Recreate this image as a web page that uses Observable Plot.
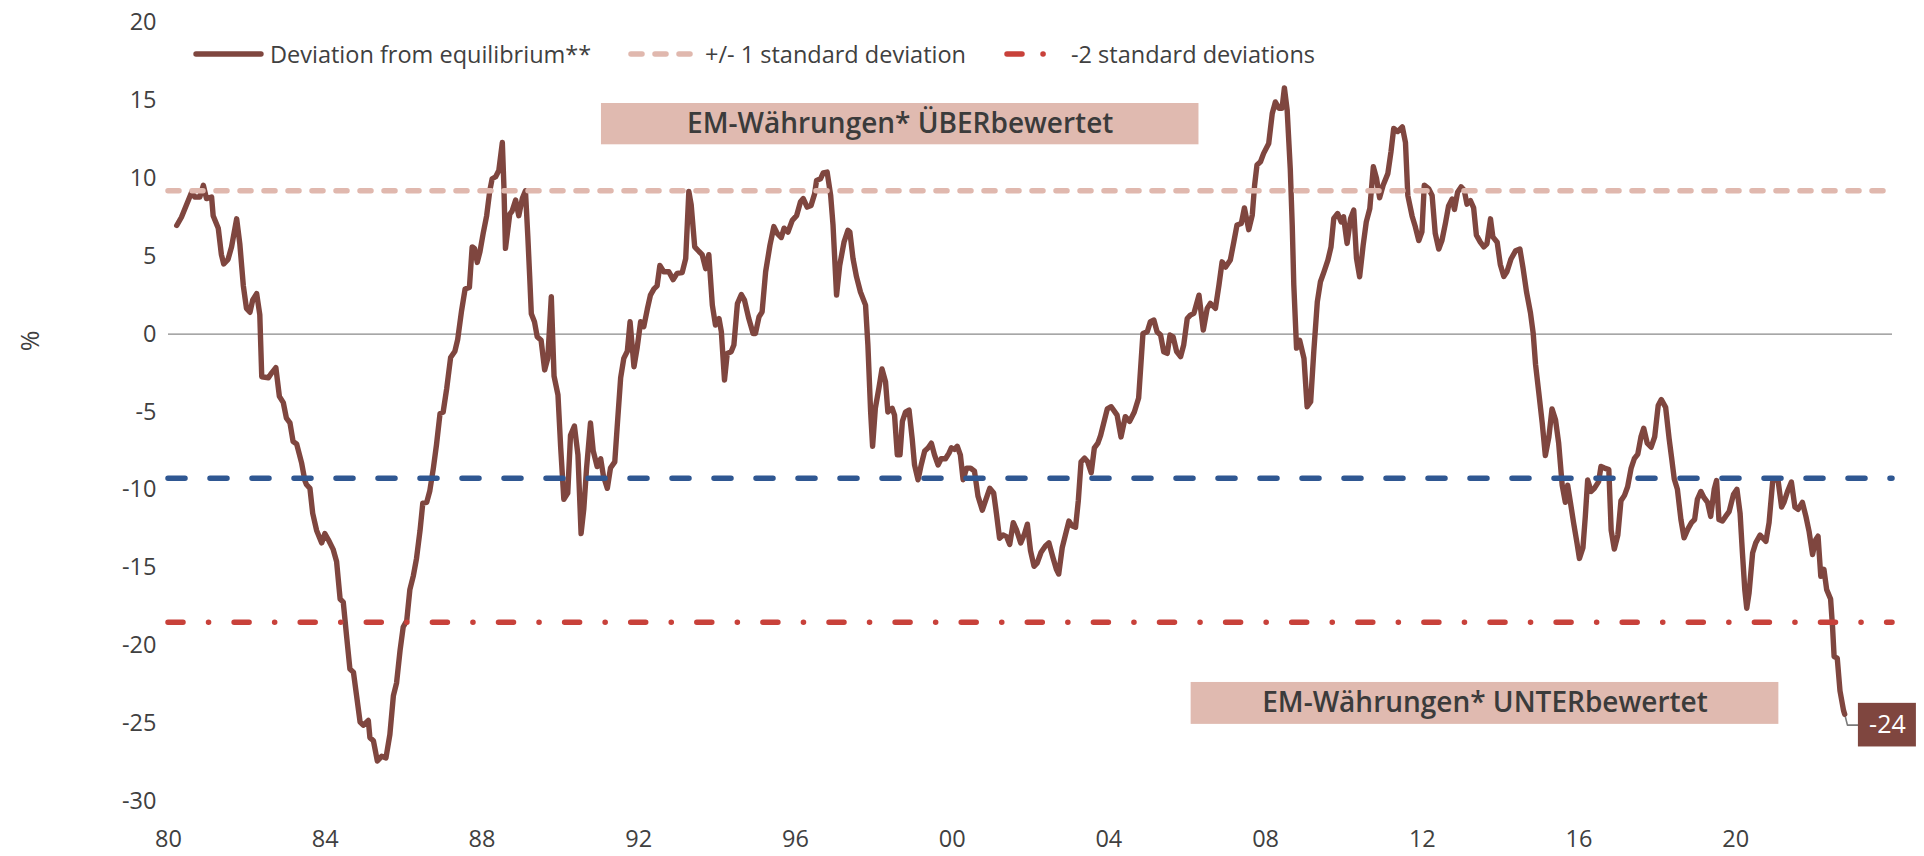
<!DOCTYPE html>
<html>
<head>
<meta charset="utf-8">
<script src="https://cdn.jsdelivr.net/npm/d3@7"></script>
<script src="https://cdn.jsdelivr.net/npm/@observablehq/plot@0.6"></script>
<style>
  html, body { margin: 0; padding: 0; background: #fff; }
  #wrap { position: relative; width: 1924px; height: 856px; overflow: hidden; font-family: 'Open Sans', sans-serif; color: #404040; }
  #chart { position: absolute; left: 0; top: 0; }
  .leg { position: absolute; top: 37px; height: 34px; display: flex; align-items: center; font-size: 23.5px; color: #404040; white-space: nowrap; }
  .leg svg { display: block; }
  #ylab { position: absolute; left: 19px; top: 324px; font-size: 25px; transform: rotate(-90deg); transform-origin: center; color: #404040; }
</style>
</head>
<body>
<div id="wrap">
  <div id="chart"></div>
  <div id="ylab">%</div>
</div>
<script>
// ---- data ----
const dates = [
1980.21,1980.33,1980.59,1980.67,1980.8,1980.89,1980.97,1981.1,1981.14,1981.27,1981.35,1981.41,1981.52,1981.61,1981.74,1981.82,1981.91,1981.99,
1982.08,1982.15,1982.25,1982.33,1982.38,1982.55,1982.63,1982.74,1982.83,1982.93,1983.01,1983.1,1983.18,1983.27,1983.4,1983.48,1983.52,1983.61,
1983.68,1983.78,1983.91,1983.99,1984.08,1984.2,1984.29,1984.38,1984.46,1984.55,1984.63,1984.72,1984.8,1984.89,1984.97,1985.1,1985.14,1985.23,
1985.33,1985.44,1985.55,1985.65,1985.74,1985.82,1985.91,1985.99,1986.08,1986.16,1986.25,1986.33,1986.42,1986.49,1986.59,1986.67,1986.76,1986.84,
1986.93,1987.01,1987.1,1987.2,1987.31,1987.38,1987.48,1987.57,1987.68,
1987.75,1987.81,1987.88,1987.95,1988.03,1988.12,1988.2,1988.26,1988.35,1988.43,1988.52,1988.56,1988.6,1988.71,1988.77,1988.86,1988.94,1989.03,
1989.11,1989.17,1989.22,1989.26,1989.34,1989.41,1989.51,1989.6,1989.68,1989.77,1989.84,1989.94,1990.01,1990.09,1990.19,1990.26,1990.36,1990.45,
1990.53,1990.6,1990.67,1990.77,1990.84,1990.94,1991.03,1991.1,1991.2,1991.28,1991.39,1991.45,1991.54,1991.62,1991.71,1991.78,1991.88,1991.96,
1992.05,1992.13,1992.22,1992.3,1992.39,1992.47,1992.54,1992.64,1992.77,1992.88,1992.98,1993.11,1993.2,1993.28,1993.34,1993.43,1993.54,1993.62,
1993.71,1993.79,1993.88,1993.96,1994.05,1994.11,1994.19,1994.26,1994.36,1994.43,1994.52,1994.62,1994.7,1994.81,1994.92,1994.98,1995.07,1995.15,
1995.24,1995.35,1995.45,1995.54,1995.64,
1995.71,1995.81,1995.92,1996.03,1996.13,1996.2,1996.3,1996.4,1996.49,1996.54,1996.64,1996.71,1996.81,1996.9,1996.96,1997.05,1997.13,1997.24,
1997.34,1997.39,1997.47,1997.56,1997.66,1997.79,1997.85,1997.92,1997.97,1998.04,1998.13,1998.21,1998.3,1998.36,1998.47,1998.53,1998.6,1998.67,
1998.73,1998.81,1998.9,1998.98,1999.04,1999.13,1999.21,1999.3,1999.39,1999.47,1999.55,1999.64,1999.72,1999.83,1999.92,1999.98,2000.06,2000.13,
2000.21,2000.28,2000.37,2000.47,2000.57,2000.66,2000.77,2000.85,2000.96,2001.06,2001.13,2001.21,2001.3,2001.39,2001.47,2001.56,2001.64,2001.75,
2001.85,2001.92,2002.0,2002.09,2002.17,2002.27,2002.38,2002.47,2002.58,2002.66,2002.72,2002.81,2002.89,2002.98,2003.06,2003.15,2003.22,2003.29,
2003.38,2003.46,2003.55,2003.63,2003.72,2003.79,
2003.96,2004.06,2004.21,2004.31,2004.42,2004.53,2004.65,2004.76,2004.87,2004.98,2005.06,2005.15,2005.23,2005.32,2005.4,2005.49,2005.56,2005.64,
2005.73,2005.83,2005.91,2006.0,2006.08,2006.17,2006.3,2006.41,2006.51,2006.59,2006.72,2006.81,2006.89,2006.98,2007.1,2007.19,2007.27,2007.38,
2007.46,2007.57,2007.66,2007.72,2007.78,2007.87,2007.95,2008.08,2008.17,2008.25,2008.34,2008.42,2008.48,2008.55,2008.63,2008.68,2008.72,2008.79,
2008.87,2008.98,2009.06,2009.15,2009.23,2009.32,2009.4,2009.49,2009.59,2009.67,2009.74,2009.84,2009.93,2009.99,2010.08,2010.17,2010.25,2010.32,
2010.4,2010.49,2010.57,2010.66,2010.75,2010.83,2010.91,2011.0,2011.12,2011.2,2011.27,2011.37,2011.49,
2011.57,2011.63,2011.74,2011.82,2011.91,2011.99,2012.05,2012.16,2012.25,2012.33,2012.42,2012.5,2012.59,2012.67,2012.76,2012.82,2012.9,2012.99,
2013.07,2013.14,2013.23,2013.31,2013.38,2013.48,2013.57,2013.65,2013.74,2013.8,2013.91,2013.99,2014.08,2014.16,2014.26,2014.38,2014.49,2014.57,
2014.66,2014.76,2014.83,2014.89,2014.97,2015.06,2015.14,2015.23,2015.31,2015.4,2015.48,2015.57,2015.65,2015.71,2015.78,2015.86,2015.95,2016.01,
2016.1,2016.16,2016.22,2016.31,2016.39,2016.5,2016.56,2016.65,2016.76,2016.82,2016.9,2016.99,2017.07,2017.16,2017.24,2017.33,2017.41,2017.5,
2017.58,2017.65,2017.74,2017.84,
2017.93,2018.02,2018.1,2018.21,2018.3,2018.36,2018.43,2018.51,2018.6,2018.68,2018.78,2018.87,2018.95,2019.02,2019.11,2019.19,2019.28,2019.36,
2019.45,2019.51,2019.57,2019.66,2019.74,2019.83,2019.94,2020.03,2020.11,2020.17,2020.23,2020.28,2020.34,2020.43,2020.51,2020.62,2020.77,2020.85,
2020.94,2021.0,2021.08,2021.17,2021.23,2021.32,2021.42,2021.51,2021.59,2021.7,2021.79,2021.87,2021.96,2022.04,2022.1,2022.17,2022.25,2022.32,
2022.42,2022.47,2022.51,2022.59,2022.66,2022.75,2022.78
];
const deviation = [
6.97,7.5,9.1,8.8,8.8,9.55,8.7,8.8,7.6,6.8,5.1,4.5,4.8,5.6,7.4,5.8,3.1,1.65,
1.4,2.2,2.6,1.25,-2.74,-2.8,-2.5,-2.15,-4.0,-4.4,-5.4,-5.7,-6.9,-7.05,-8.3,-9.4,-9.65,-9.9,
-11.5,-12.6,-13.4,-12.8,-13.2,-13.8,-14.6,-17.0,-17.2,-19.5,-21.5,-21.7,-23.2,-24.9,-25.1,-24.8,-25.9,-26.1,
-27.4,-27.1,-27.2,-25.7,-23.2,-22.4,-20.3,-18.8,-18.4,-16.4,-15.5,-14.4,-12.6,-10.85,-10.8,-10.05,-8.6,-7.1,
-5.1,-5.0,-3.5,-1.5,-1.1,-0.35,1.5,2.9,3.0,
5.6,5.5,4.6,5.3,6.45,7.6,9.2,9.97,10.1,10.5,12.3,9.5,5.5,7.7,7.9,8.6,7.6,8.7,
9.2,6.3,3.6,1.3,0.8,-0.17,-0.4,-2.3,-1.56,2.4,-2.7,-3.9,-7.3,-10.6,-10.2,-6.5,-5.9,-7.75,
-12.8,-11.2,-8.6,-5.7,-7.5,-8.5,-8.0,-9.1,-9.9,-8.6,-8.2,-6.0,-2.8,-1.56,-1.1,0.8,-2.1,-0.9,
0.8,0.47,1.6,2.5,2.9,3.1,4.4,4.0,4.0,3.5,3.9,3.95,4.85,9.15,8.3,5.6,5.3,5.1,
4.2,5.1,1.86,0.58,1.0,0.15,-2.95,-1.24,-1.13,-0.7,1.96,2.54,2.18,1.0,0.04,0.04,1.1,1.43,
4.0,5.7,6.9,6.45,6.2,
6.8,6.55,7.3,7.6,8.5,8.7,8.15,8.26,9.0,9.86,9.97,10.35,10.4,8.9,7.0,2.5,4.4,5.9,
6.66,6.55,4.85,3.67,2.7,1.86,-0.7,-5.0,-7.2,-4.76,-3.48,-2.24,-3.05,-5.0,-4.76,-5.2,-7.75,-7.75,
-5.6,-5.0,-4.87,-6.7,-8.4,-9.35,-8.4,-7.5,-7.3,-7.0,-7.75,-8.4,-8.0,-8.0,-7.64,-7.3,-7.4,-7.2,
-7.75,-9.35,-8.6,-8.6,-8.8,-10.4,-11.3,-10.7,-9.9,-10.2,-11.5,-13.1,-12.9,-13.0,-13.5,-12.1,-12.55,-13.4,
-12.8,-12.2,-13.9,-14.9,-14.7,-14.0,-13.6,-13.4,-14.4,-15.1,-15.4,-13.7,-12.9,-12.0,-12.3,-12.4,-10.7,-8.2,
-7.96,-8.2,-8.9,-7.3,-7.0,-6.5,
-4.8,-4.66,-5.2,-6.6,-5.3,-5.6,-5.0,-4.1,0.04,0.15,0.8,0.9,0.15,-0.06,-1.13,-1.24,-0.06,-0.17,
-1.13,-1.45,-0.7,1.0,1.22,1.33,2.5,0.26,1.65,1.97,1.65,3.15,4.64,4.3,4.75,5.93,7.0,7.1,
8.1,6.7,7.64,9.56,10.85,11.06,11.6,12.24,14.16,14.9,14.5,14.5,15.8,14.4,10.6,7.0,3.15,-0.9,
-0.4,-1.56,-4.66,-4.34,-1.13,2.07,3.36,4.0,4.75,5.6,7.42,7.74,7.2,7.53,5.82,7.42,7.96,4.86,
3.68,5.7,7.2,8.06,10.74,10.0,8.75,9.56,10.3,11.7,13.2,13.0,13.3,
12.3,8.9,7.57,6.9,6.0,6.57,9.56,9.34,8.9,6.46,5.46,6.0,7.12,8.23,8.67,8.0,9.1,9.45,
9.23,8.34,8.56,8.1,6.35,5.9,5.6,5.8,7.4,6.24,5.9,4.47,3.7,4.0,4.8,5.35,5.46,4.25,
2.7,1.37,0.04,-1.95,-3.7,-5.7,-7.8,-6.6,-4.8,-5.5,-7.0,-9.7,-10.8,-9.7,-10.8,-12.1,-13.45,-14.4,
-13.7,-11.7,-9.36,-10.1,-9.9,-9.47,-8.5,-8.6,-8.7,-12.6,-13.8,-12.9,-10.7,-10.35,-9.8,-8.6,-8.0,-7.7,
-6.6,-6.04,-7.0,-7.26,
-6.6,-4.58,-4.2,-4.7,-6.73,-7.9,-9.3,-9.96,-11.9,-13.08,-12.5,-12.1,-11.9,-10.6,-10.1,-10.5,-10.8,-11.7,
-9.96,-9.4,-11.9,-12.0,-11.7,-11.4,-10.3,-9.96,-11.5,-14.05,-16.4,-17.6,-16.6,-14.05,-13.4,-12.9,-13.3,-12.1,
-9.5,-9.3,-9.4,-11.1,-10.8,-10.1,-9.5,-11.1,-11.25,-10.8,-11.7,-12.65,-14.15,-13.2,-12.97,-15.55,-15.1,-16.4,
-17.0,-18.8,-20.7,-20.8,-22.9,-24.15,-24.4
];
const plusOneSD = 9.2;
const minusOneSD = -9.25;
const minusTwoSD = -18.5;
const yTicks = [-30, -25, -20, -15, -10, -5, 0, 5, 10, 15, 20];
const yTickLabels = ["-30", "-25", "-20", "-15", "-10", "-5", "0", "5", "10", "15", "20"];
const xTicks = [1980, 1984, 1988, 1992, 1996, 2000, 2004, 2008, 2012, 2016, 2020];
const xTickLabels = ["80", "84", "88", "92", "96", "00", "04", "08", "12", "16", "20"];
const annotations = [
  {label: "EM-Währungen* ÜBERbewertet", x1: 1991.05, x2: 2006.3, y1: 12.15, y2: 14.8},
  {label: "EM-Währungen* UNTERbewertet", x1: 2006.1, x2: 2021.1, y1: -25.05, y2: -22.36}
];
const endLabel = {text: "-24", x1: 2023.13, x2: 2024.61, y1: -26.5, y2: -23.7};
const legendItems = [
  {label: "Deviation from equilibrium**", kind: "solid"},
  {label: "+/- 1 standard deviation", kind: "pink"},
  {label: "-2 standard deviations", kind: "dashdot"}
];

// ---- styles ----
const C = {line: "#7f463f", pink: "#e0b8ae", blue: "#2f5792", red: "#c8413a", box: "#e0bab0", text: "#404040", zero: "#8a8a8a"};

const series = dates.map((t, i) => ({t, v: deviation[i]}));
const last = series[series.length - 1];
const labelY = (endLabel.y1 + endLabel.y2) / 2;
const leader = [{t: last.t, v: last.v}, {t: last.t + 0.07, v: labelY}, {t: endLabel.x1, v: labelY}];

const chart = Plot.plot({
  width: 1924,
  height: 856,
  marginLeft: 168,
  marginRight: 32,
  marginTop: 22,
  marginBottom: 55,
  style: {fontFamily: "'Open Sans', sans-serif", fontSize: "23px", color: C.text, background: "transparent"},
  x: {domain: [1980, 2024]},
  y: {domain: [-30, 20]},
  marks: [
    Plot.axisY({ticks: yTicks, tickFormat: d => yTickLabels[yTicks.indexOf(d)], tickSize: 0, tickPadding: 12, label: null, fontSize: 23.5}),
    Plot.axisX({ticks: xTicks, tickFormat: d => xTickLabels[xTicks.indexOf(d)], tickSize: 0, tickPadding: 29, label: null, fontSize: 23.5}),
    Plot.ruleY([0], {stroke: C.zero, strokeWidth: 1.3}),
    Plot.rect(annotations, {x1: "x1", x2: "x2", y1: "y1", y2: "y2", fill: C.box}),
    Plot.text(annotations, {x: d => (d.x1 + d.x2) / 2, y: d => (d.y1 + d.y2) / 2, text: "label", fontSize: 28, fontWeight: 600, fill: "#3b3b3b"}),
    Plot.line(leader, {x: "t", y: "v", stroke: "#7a7a7a", strokeWidth: 1.6}),
    Plot.line(series, {x: "t", y: "v", stroke: C.line, strokeWidth: 5.4, strokeLinejoin: "round", strokeLinecap: "round"}),
    Plot.ruleY([plusOneSD], {stroke: C.pink, strokeWidth: 5.5, strokeDasharray: "11,13", strokeLinecap: "round"}),
    Plot.ruleY([minusOneSD], {stroke: C.blue, strokeWidth: 5.5, strokeDasharray: "17,25", strokeLinecap: "round"}),
    Plot.ruleY([minusTwoSD], {stroke: C.red, strokeWidth: 5.5, strokeDasharray: "15,25.5,0.1,25.5", strokeLinecap: "round"}),
    Plot.rect([endLabel], {x1: "x1", x2: "x2", y1: "y1", y2: "y2", fill: C.line}),
    Plot.text([endLabel], {x: d => (d.x1 + d.x2) / 2, y: d => (d.y1 + d.y2) / 2, text: "text", fontSize: 25, fill: "#ffffff"})
  ]
});
document.getElementById("chart").appendChild(chart);

// ---- legend (HTML overlay) ----
const legendLeft = [193, 628, 1004];
const swatchW = [71, 65, 63];
const textGap = [6, 12, 4];
const wrap = document.getElementById("wrap");
legendItems.forEach((item, i) => {
  const div = document.createElement("div");
  div.className = "leg";
  div.style.left = legendLeft[i] + "px";
  let line;
  if (item.kind === "solid") line = `<line x1="3" x2="${swatchW[i]-3}" y1="8" y2="8" stroke="${C.line}" stroke-width="5.4" stroke-linecap="round"/>`;
  else if (item.kind === "pink") line = `<line x1="3" x2="${swatchW[i]-3}" y1="8" y2="8" stroke="${C.pink}" stroke-width="5.5" stroke-linecap="round" stroke-dasharray="11,13"/>`;
  else line = `<line x1="3" x2="${swatchW[i]-3}" y1="8" y2="8" stroke="${C.red}" stroke-width="5.5" stroke-linecap="round" stroke-dasharray="15,21,0.1,21"/>`;
  div.innerHTML = `<svg width="${swatchW[i]}" height="16">${line}</svg><span style="margin-left:${textGap[i]}px">${item.label}</span>`;
  wrap.appendChild(div);
});
</script>
</body>
</html>
